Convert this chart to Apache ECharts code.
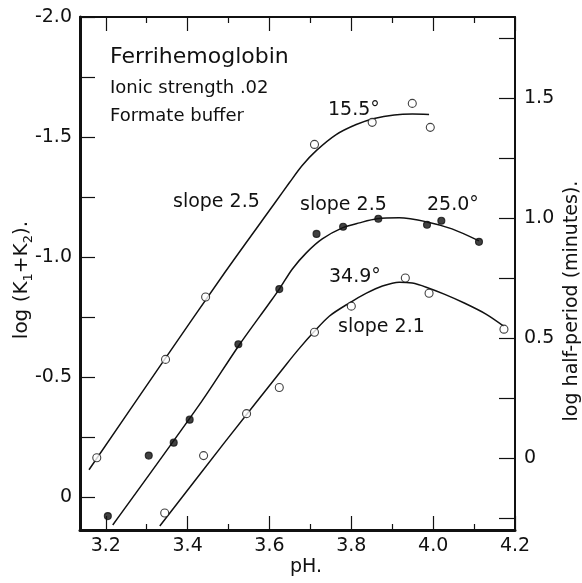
<!DOCTYPE html>
<html>
<head>
<meta charset="utf-8">
<script src="https://cdn.jsdelivr.net/npm/echarts@6/dist/echarts.min.js"></script>
<style>
html,body{margin:0;padding:0;background:#fff}
#chart{width:582px;height:583px}
</style>
</head>
<body>
<div id="chart"></div>
<script>
// tick values
var phLabels = [3.2, 3.4, 3.6, 3.8, 4.0, 4.2];
var phMinor = [3.3, 3.5, 3.7, 3.9, 4.1];
var logKTicks = [-2, -1.75, -1.5, -1.25, -1, -0.75, -0.5, -0.25, 0];
var logKLabels = [-2, -1.5, -1, -0.5, 0];
var halfTicks = [-0.25, 0, 0.25, 0.5, 0.75, 1, 1.25, 1.5, 1.75];
var halfLabels = [0, 0.5, 1, 1.5];

// measured points [pH, log(k1+k2)]
var pts155 = [[3.178,-0.163],[3.346,-0.573],[3.444,-0.833],[3.710,-1.469],[3.851,-1.561],[3.949,-1.640],[3.993,-1.540]];
var pts250 = [[3.205,0.080],[3.305,-0.172],[3.366,-0.226],[3.405,-0.322],[3.524,-0.636],[3.624,-0.866],[3.715,-1.096],[3.780,-1.126],[3.866,-1.159],[3.985,-1.134],[4.020,-1.151],[4.112,-1.063]];
var pts349 = [[3.344,0.067],[3.439,-0.172],[3.544,-0.347],[3.624,-0.456],[3.710,-0.686],[3.800,-0.795],[3.932,-0.912],[3.990,-0.849],[4.173,-0.699]];

// fitted curves
var curve155 = [[3.159,-0.113],[3.332,-0.544],[3.490,-0.933],[3.617,-1.234],[3.649,-1.310],[3.680,-1.381],[3.715,-1.444],[3.763,-1.510],[3.812,-1.552],[3.856,-1.577],[3.905,-1.592],[3.949,-1.596],[3.990,-1.594]];
var curve250 = [[3.217,0.117],[3.434,-0.397],[3.524,-0.628],[3.600,-0.808],[3.624,-0.866],[3.656,-0.950],[3.690,-1.017],[3.729,-1.075],[3.778,-1.121],[3.820,-1.142],[3.863,-1.159],[3.917,-1.163],[3.985,-1.146],[4.046,-1.117],[4.112,-1.067]];
var curve349 = [[3.332,0.121],[3.490,-0.226],[3.641,-0.552],[3.673,-0.619],[3.710,-0.690],[3.746,-0.753],[3.795,-0.808],[3.837,-0.849],[3.876,-0.879],[3.917,-0.895],[3.949,-0.891],[3.983,-0.874],[4.027,-0.845],[4.076,-0.808],[4.129,-0.762],[4.173,-0.711]];

var FONT = 'DejaVu Sans';
var INK = '#111';

var chart = echarts.init(document.getElementById('chart'), null, {renderer: 'canvas'});

function xAx(pos, ticks, len, major) {
  return {
    type: 'value', position: pos, min: 3.137, max: 4.2,
    axisLine: {show: major, onZero: false, lineStyle: {color: INK, width: pos === 'bottom' ? 3 : 2}},
    axisTick: {show: true, inside: true, length: len, customValues: ticks, lineStyle: {color: INK, width: 1.2}},
    axisLabel: (pos === 'bottom' && major) ? {
      show: true, customValues: phLabels, margin: 7, color: INK, fontFamily: FONT, fontSize: 19,
      formatter: function (v) { return v.toFixed(1); }
    } : {show: false},
    splitLine: {show: false}
  };
}

function curveSeries(d) {
  return {
    type: 'line', data: d, showSymbol: false, smooth: 0.3,
    lineStyle: {color: INK, width: 1.5}, silent: true, z: 2
  };
}
function ptSeries(d, filled) {
  return {
    type: 'scatter', data: d, symbol: 'circle', symbolSize: filled ? 7 : 8,
    itemStyle: {color: filled ? INK : '#fff', borderColor: INK, borderWidth: 1.1},
    z: 3
  };
}

function txt(s, x, y, size, align) {
  return {
    type: 'text', x: x, y: y,
    style: {text: s, fill: INK, font: size + 'px "' + FONT + '"', align: align || 'left', verticalAlign: 'middle'}
  };
}

var option = {
  backgroundColor: '#fff',
  animation: false,
  grid: {left: 80, right: 67, top: 17, bottom: 53},
  xAxis: [
    xAx('bottom', phLabels, 14, true),
    xAx('bottom', phMinor, 6, false),
    xAx('top', phLabels, 14, true),
    xAx('top', phMinor, 6, false)
  ],
  yAxis: [
    {
      type: 'value', position: 'left', inverse: true, min: -2, max: 0.138,
      axisLine: {show: true, onZero: false, lineStyle: {color: INK, width: 3}},
      axisTick: {show: true, inside: true, length: 15, customValues: logKTicks, lineStyle: {color: INK, width: 1.2}},
      axisLabel: {
        customValues: logKLabels, margin: 8, color: INK, fontFamily: FONT, fontSize: 19,
        formatter: function (v) { return v === 0 ? '0' : v.toFixed(1); }
      },
      splitLine: {show: false}
    },
    {
      type: 'value', position: 'right', min: -0.3, max: 1.8375,
      axisLine: {show: true, onZero: false, lineStyle: {color: INK, width: 2}},
      axisTick: {show: true, inside: true, length: 16, customValues: halfTicks, lineStyle: {color: INK, width: 1.2}},
      axisLabel: {
        customValues: halfLabels, margin: 9, color: INK, fontFamily: FONT, fontSize: 19,
        formatter: function (v) { return v === 0 ? '0' : v.toFixed(1); }
      },
      splitLine: {show: false}
    }
  ],
  series: [
    curveSeries(curve155), curveSeries(curve250), curveSeries(curve349),
    ptSeries(pts155, false), ptSeries(pts250, true), ptSeries(pts349, false)
  ],
  graphic: [
    txt('Ferrihemoglobin', 110, 57, 22),
    txt('Ionic strength .02', 110, 88, 18),
    txt('Formate buffer', 110, 116, 18),
    txt('slope 2.5', 173, 202, 19),
    txt('15.5°', 328, 110, 19),
    txt('slope 2.5', 300, 205, 19),
    txt('25.0°', 427, 205, 19),
    txt('34.9°', 329, 277, 19),
    txt('slope 2.1', 338, 327, 19),
    txt('pH.', 306, 567, 19, 'center'),
    {
      type: 'text', x: 22, y: 280, rotation: Math.PI / 2,
      style: {
        text: '{a|log (K}{s|1}{a|+K}{s|2}{a|).}', align: 'center', verticalAlign: 'middle', fill: INK,
        rich: {
          a: {fontFamily: FONT, fontSize: 20, lineHeight: 26, fill: INK},
          s: {fontFamily: FONT, fontSize: 13, lineHeight: 14, verticalAlign: 'bottom', fill: INK}
        }
      }
    },
    {
      type: 'text', x: 572, y: 301, rotation: Math.PI / 2,
      style: {text: 'log half-period (minutes).', fill: INK, font: '19px "' + FONT + '"', align: 'center', verticalAlign: 'middle'}
    }
  ]
};

chart.setOption(option);
window.addEventListener('resize', chart.resize);
</script>
</body>
</html>
